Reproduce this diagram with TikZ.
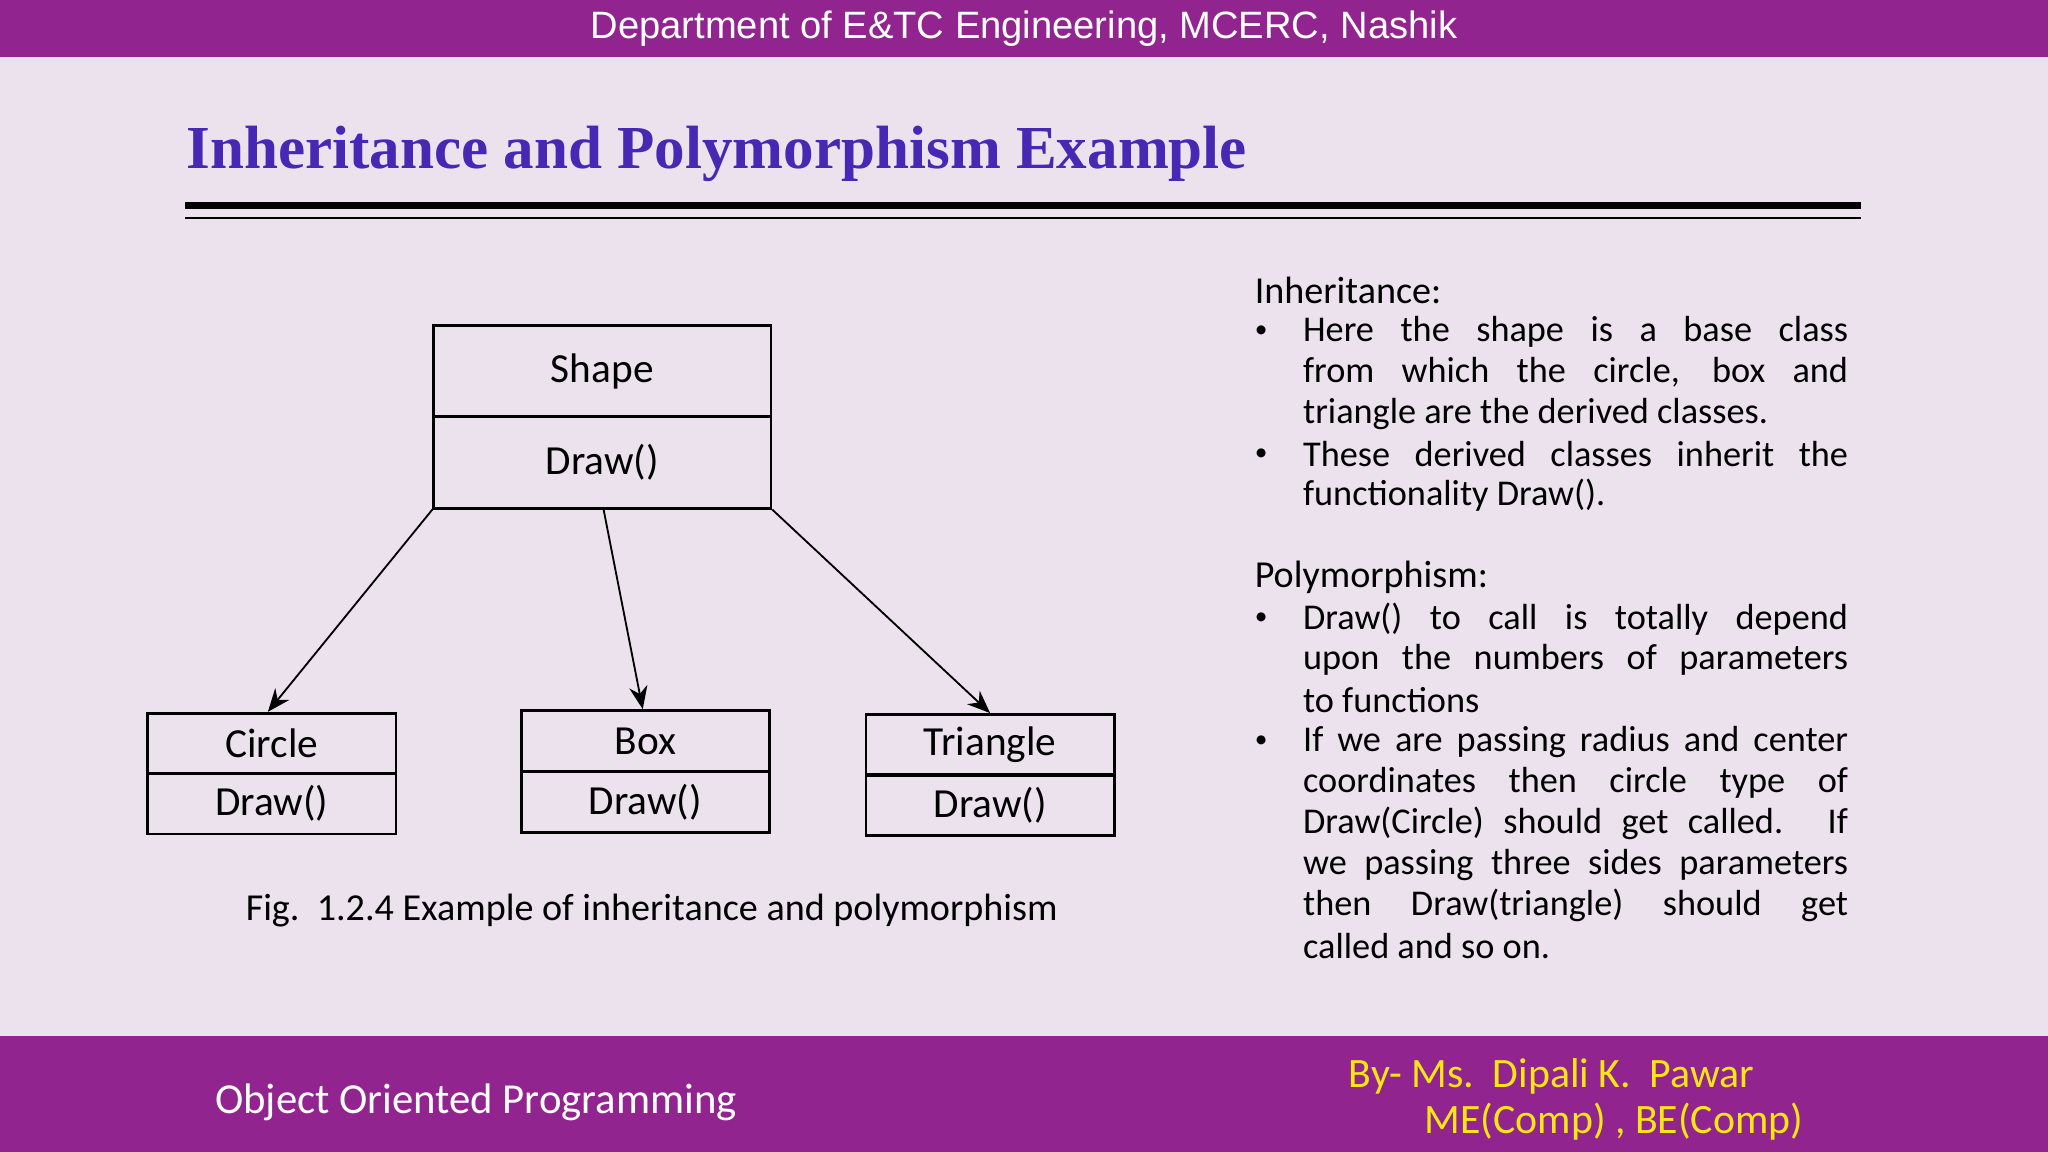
\documentclass[tikz,border=0pt]{standalone}
\usepackage{fontspec}
\setmainfont{Carlito}
\newfontfamily\hdfont{Liberation Sans}
\newfontfamily\ttlfont{Liberation Serif}
\usetikzlibrary{arrows.meta}
\definecolor{band}{RGB}{146,36,143}
\definecolor{bg}{RGB}{236,226,238}
\definecolor{ttl}{RGB}{70,40,180}
\definecolor{yel}{RGB}{245,230,20}
\tikzset{
 cls/.style={draw,semithick,minimum width=2.58cm,minimum height=0.70cm,inner sep=0pt,font=\fontsize{9}{10}\selectfont},
 sml/.style={draw,semithick,minimum width=1.90cm,minimum height=0.465cm,inner sep=0pt,font=\fontsize{9}{10}\selectfont},
 ln/.style={anchor=west,inner sep=0pt,font=\fontsize{7.9}{9}\selectfont},
 arr/.style={-{Stealth[length=5pt,width=4pt]},thin}
}
\newcommand{\jl}[1]{\makebox[4.17cm][s]{#1}}
\newcommand{\bul}{\scalebox{0.7}{\textbullet}}
\begin{document}
\begin{tikzpicture}[x=0.01cm,y=-0.01cm]
\useasboundingbox (0,0) rectangle (1568,882);
\fill[bg] (0,0) rectangle (1568,882);
\fill[band] (0,0) rectangle (1568,44);
\fill[band] (0,793) rectangle (1568,882);
\node[text=white,font=\hdfont\fontsize{8.3}{9}\selectfont] (hd) at (784,22) {Department of E\&TC Engineering, MCERC, Nashik};
\node[anchor=west,inner sep=0pt,text=ttl,font=\ttlfont\bfseries\fontsize{13.3}{15}\selectfont] (tt) at (142,118) {Inheritance and Polymorphism Example};
\draw[line width=1.5pt] (142,157) -- (1425,157);
\draw[line width=0.45pt] (142,167) -- (1425,167);
% classes
\node[cls,anchor=north west] (s1) at (331,248) {Shape};
\node[cls,anchor=north west] (s2) at (331,318) {Draw()};
\node[sml,anchor=north west] (c1) at (112,545) {Circle};
\node[sml,anchor=north west] (c2) at (112,591) {Draw()};
\node[sml,anchor=north west] (b1) at (398,543) {Box};
\node[sml,anchor=north west] (b2) at (398,590) {Draw()};
\node[sml,anchor=north west] (t1) at (662,546) {Triangle};
\node[sml,anchor=north west] (t2) at (662,592) {Draw()};
\draw[arr] (s2.south west) -- ([xshift=-0.03cm]c1.north);
\draw[arr] ([xshift=0.01cm]s2.south) -- ([xshift=-0.02cm]b1.north);
\draw[arr] (s2.south east) -- (t1.north);
\node[font=\fontsize{8.3}{10}\selectfont] (cap) at (499,697) {Fig.\ \ 1.2.4 Example of inheritance and polymorphism};
% right text
\node[ln,font=\fontsize{8.3}{10}\selectfont] (h1) at (960,222) {Inheritance:};
\node[ln] (d1) at (960,254) {\bul};
\node[ln] (l1) at (997,254) {\jl{Here the shape is a base class}};
\node[ln] (l2) at (997,285) {\jl{from which the circle, box and}};
\node[ln] (l3) at (997,317) {triangle are the derived classes.};
\node[ln] (d2) at (960,348) {\bul};
\node[ln] (l4) at (997,348) {\jl{These derived classes inherit the}};
\node[ln] (l5) at (997,379) {functionality Draw().};
\node[ln,font=\fontsize{8.3}{10}\selectfont] (h2) at (960,442) {Polymorphism:};
\node[ln] (d3) at (960,474) {\bul};
\node[ln] (m1) at (997,474) {\jl{Draw() to call is totally depend}};
\node[ln] (m2) at (997,505) {\jl{upon the numbers of parameters}};
\node[ln] (m3) at (997,536) {to functions};
\node[ln] (d4) at (960,568) {\bul};
\node[ln] (m4) at (997,568) {\jl{If we are passing radius and center}};
\node[ln] (m5) at (997,599) {\jl{coordinates then circle type of}};
\node[ln] (m6) at (997,630) {\jl{Draw(Circle) should get called. If}};
\node[ln] (m7) at (997,662) {\jl{we passing three sides parameters}};
\node[ln] (m8) at (997,693) {\jl{then Draw(triangle) should get}};
\node[ln] (m9) at (997,724) {called and so on.};
% footer
\node[anchor=west,inner sep=0pt,text=white,font=\fontsize{9.3}{10}\selectfont] (f1) at (164,844) {Object Oriented Programming};
\node[anchor=west,inner sep=0pt,text=yel,font=\fontsize{9.1}{10}\selectfont] (f2) at (1032,824) {By- Ms.\ \ Dipali K.\ \ Pawar};
\node[anchor=west,inner sep=0pt,text=yel,font=\fontsize{9.1}{10}\selectfont] (f3) at (1090,859) {ME(Comp) , BE(Comp)};
\end{tikzpicture}
\end{document}
